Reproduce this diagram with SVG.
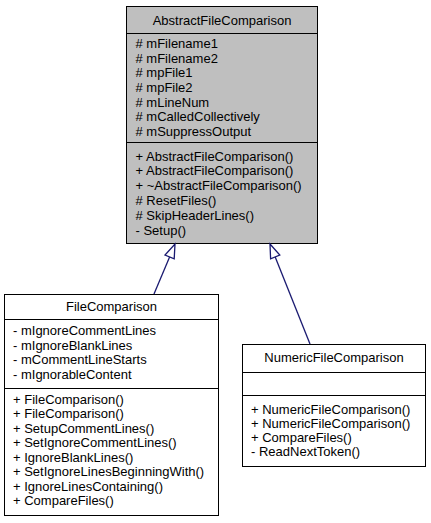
<svg xmlns="http://www.w3.org/2000/svg" width="431" height="523" viewBox="0 0 431 523">
<style>
text{font-family:"Liberation Sans",Arial,Helvetica,sans-serif;font-size:13px;fill:#000}
.c{text-anchor:middle}
.box{stroke:#000;stroke-width:1}
.cur{fill:#bfbfbf}
.oth{fill:#fff}
.sep{stroke:#000;stroke-width:1}
.edge{stroke:#191970;stroke-width:1.3;fill:none}
.head{stroke:#191970;stroke-width:1.3;fill:#fff}
</style>
<rect width="431" height="523" fill="#fff"/>
<g id="AbstractFileComparison">
<rect class="box cur" x="126.5" y="6.5" width="191" height="237"/>
<line class="sep" x1="126.5" y1="33.5" x2="317.5" y2="33.5"/>
<line class="sep" x1="126.5" y1="142.5" x2="317.5" y2="142.5"/>
<text class="c" x="222" y="24.5">AbstractFileComparison</text>
<text x="135.5" y="47.8"># mFilename1</text>
<text x="135.5" y="62.5"># mFilename2</text>
<text x="135.5" y="77.2"># mpFile1</text>
<text x="135.5" y="91.8"># mpFile2</text>
<text x="135.5" y="106.5"># mLineNum</text>
<text x="135.5" y="121.2"># mCalledCollectively</text>
<text x="135.5" y="135.8"># mSuppressOutput</text>
<text x="135.5" y="160.5">+ AbstractFileComparison()</text>
<text x="135.5" y="175.3">+ AbstractFileComparison()</text>
<text x="135.5" y="190.1">+ ~AbstractFileComparison()</text>
<text x="135.5" y="204.9"># ResetFiles()</text>
<text x="135.5" y="219.7"># SkipHeaderLines()</text>
<text x="135.5" y="234.5">- Setup()</text>
</g>
<g id="FileComparison">
<rect class="box oth" x="4.5" y="294.5" width="214" height="221"/>
<line class="sep" x1="4.5" y1="319.5" x2="218.5" y2="319.5"/>
<line class="sep" x1="4.5" y1="388.5" x2="218.5" y2="388.5"/>
<text class="c" x="111.5" y="311">FileComparison</text>
<text x="13" y="335.2">- mIgnoreCommentLines</text>
<text x="13" y="349.8">- mIgnoreBlankLines</text>
<text x="13" y="364.4">- mCommentLineStarts</text>
<text x="13" y="379">- mIgnorableContent</text>
<text x="13" y="403.8">+ FileComparison()</text>
<text x="13" y="418.3">+ FileComparison()</text>
<text x="13" y="432.8">+ SetupCommentLines()</text>
<text x="13" y="447.3">+ SetIgnoreCommentLines()</text>
<text x="13" y="461.8">+ IgnoreBlankLines()</text>
<text x="13" y="476.3">+ SetIgnoreLinesBeginningWith()</text>
<text x="13" y="490.8">+ IgnoreLinesContaining()</text>
<text x="13" y="505.3">+ CompareFiles()</text>
</g>
<g id="NumericFileComparison">
<rect class="box oth" x="242.5" y="344.5" width="183" height="122"/>
<line class="sep" x1="242.5" y1="372.5" x2="425.5" y2="372.5"/>
<line class="sep" x1="242.5" y1="395.5" x2="425.5" y2="395.5"/>
<text class="c" x="334" y="362">NumericFileComparison</text>
<text x="251" y="413.5">+ NumericFileComparison()</text>
<text x="251" y="427.5">+ NumericFileComparison()</text>
<text x="251" y="441.5">+ CompareFiles()</text>
<text x="251" y="455.5">- ReadNextToken()</text>
</g>
<g id="connectors">
<line class="edge" x1="154" y1="294" x2="169.6" y2="256.9"/>
<polygon class="head" points="175,244 174.2,258.8 165,255"/>
<line class="edge" x1="310" y1="344" x2="275.2" y2="257"/>
<polygon class="head" points="270,244 279.8,255.1 270.6,258.9"/>
</g>
</svg>
